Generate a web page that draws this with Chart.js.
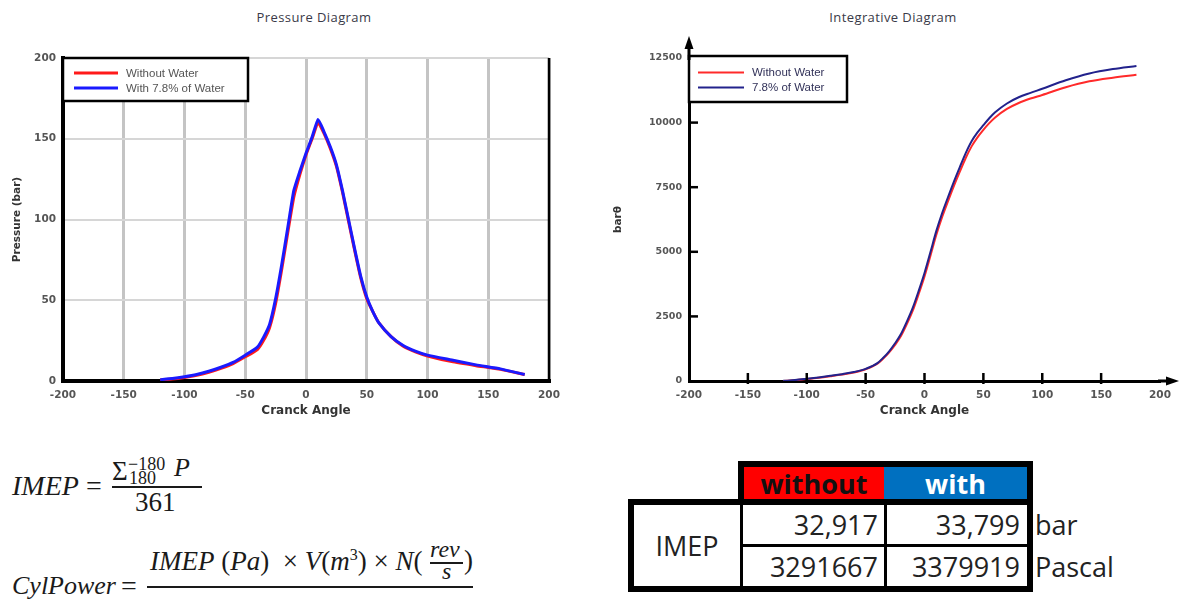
<!DOCTYPE html>
<html>
<head>
<meta charset="utf-8">
<script src="https://cdn.jsdelivr.net/npm/chart.js@4.4.1/dist/chart.umd.min.js"></script>
<style>
  html, body { margin:0; padding:0; background:#fff; }
  body { width:1180px; height:609px; position:relative; overflow:hidden; }
  .title { position:absolute; top:8px; width:220px; font-family:"Open Sans", sans-serif; font-size:13px; line-height:18px; color:#3a3a48; text-align:center; letter-spacing:0.4px; }
  #pressure { position:absolute; left:0; top:0; }
  #integral { position:absolute; left:590px; top:0; }
  .m { position:absolute; font-family:"Liberation Serif", serif; color:#1a1a1a; white-space:nowrap; line-height:1; }
  .rule { position:absolute; background:#1a1a1a; }
  .box { position:absolute; box-sizing:border-box; border:6px solid #000; background:#fff; }
  .cell { position:absolute; font-family:"Open Sans", sans-serif; font-size:27px; color:#222; white-space:nowrap; }
  .blk { position:absolute; background:#000; }
</style>
</head>
<body>
<div class="title" style="left:204px">Pressure Diagram</div>
<div class="title" style="left:783px">Integrative Diagram</div>
<canvas id="pressure" width="580" height="430"></canvas>
<canvas id="integral" width="590" height="430"></canvas>

<!-- IMEP table -->
<div class="box" style="left:738px;top:461px;width:295px;height:46px;"></div>
<div class="cell" style="left:744px;top:467px;width:140px;height:33px;line-height:33px;background:#ff0000;text-align:center;font-weight:bold;color:#111;">without</div>
<div class="cell" style="left:884px;top:467px;width:143px;height:33px;line-height:33px;background:#0070c0;text-align:center;font-weight:bold;color:#fff;">with</div>
<div class="box" style="left:628px;top:499px;width:405px;height:93px;"></div>
<div class="blk" style="left:740px;top:502px;width:3px;height:88px;"></div>
<div class="blk" style="left:884px;top:502px;width:3px;height:88px;"></div>
<div class="blk" style="left:741px;top:544px;width:287px;height:3px;"></div>
<div class="cell" style="left:634px;top:505px;width:106px;height:81px;line-height:81px;text-align:center;">IMEP</div>
<div class="cell" style="left:743px;top:505px;width:135px;height:39px;line-height:39px;text-align:right;">32,917</div>
<div class="cell" style="left:887px;top:505px;width:133px;height:39px;line-height:39px;text-align:right;">33,799</div>
<div class="cell" style="left:743px;top:547px;width:135px;height:39px;line-height:39px;text-align:right;">3291667</div>
<div class="cell" style="left:887px;top:547px;width:133px;height:39px;line-height:39px;text-align:right;">3379919</div>
<div class="cell" style="left:1035px;top:505px;height:39px;line-height:39px;">bar</div>
<div class="cell" style="left:1035px;top:547px;height:39px;line-height:39px;">Pascal</div>

<script>
// crank angle (deg) shared by both diagrams
const crankAngle = [-120,-110,-100,-90,-80,-70,-60,-50,-40,-35,-30,-25,-20,-15,-10,-5,0,5,10,15,20,25,30,35,40,45,50,55,60,70,80,90,100,120,140,160,180];

// cylinder pressure (bar)
const pressureWithout = [0.6,1.2,2.2,3.5,5.4,7.8,10.8,15,19.5,25,33,48,69,92,114,128,140,150,160,153,144,133,117,99,81,64,51,43,36,27.5,21.5,18,15.5,12,9.5,7.2,4];
const pressureWith    = [0.8,1.5,2.6,4.0,6.0,8.5,11.5,16,21,27,35,51,72,95,118,130,141,151,162,154,145,134,118,100,82,65,52,43,36,27.5,22,18.5,16,13,10,7.5,4];

// integrated pressure (bar.deg)
const integralWithout = [4,30,75,125,185,250,330,455,670,870,1110,1400,1740,2200,2720,3360,4050,4840,5650,6350,6960,7550,8100,8630,9080,9430,9720,9980,10200,10530,10760,10930,11070,11370,11600,11740,11850];
const integralWith    = [5,35,85,140,200,265,345,470,690,900,1150,1460,1820,2300,2830,3480,4180,4980,5800,6500,7120,7720,8280,8820,9280,9620,9900,10170,10400,10740,10980,11150,11310,11640,11900,12070,12190];

const angleTicks = [-200,-150,-100,-50,0,50,100,150,200];
const pressureTicks = [0,50,100,150,200];
const integralTicks = [0,2500,5000,7500,10000,12500];

const pts = arr => crankAngle.map((a, i) => ({x: a, y: arr[i]}));

// legend drawn as a framed box in the top-left corner of the plot
const boxLegend = {
  id: 'boxLegend',
  afterDraw(chart, args, o) {
    const {ctx, chartArea} = chart;
    const x = chartArea.left, y = chartArea.top + o.dy;
    ctx.save();
    ctx.fillStyle = '#fff';
    ctx.fillRect(x, y, o.w, o.h);
    ctx.strokeStyle = '#000';
    ctx.lineWidth = 2.5;
    ctx.strokeRect(x, y, o.w, o.h);
    chart.data.datasets.forEach((ds, i) => {
      const ly = y + o.rows[i];
      ctx.strokeStyle = ds.borderColor;
      ctx.lineWidth = ds.borderWidth;
      ctx.beginPath();
      ctx.moveTo(x + o.x0, ly);
      ctx.lineTo(x + o.x1, ly);
      ctx.stroke();
      ctx.fillStyle = o.color;
      ctx.font = o.font;
      ctx.textBaseline = 'middle';
      ctx.fillText(ds.label, x + o.tx, ly + 0.5);
    });
    ctx.restore();
  }
};

// black right edge of the pressure plot
const rightEdge = {
  id: 'rightEdge',
  afterDraw(chart) {
    const {ctx, chartArea: a} = chart;
    ctx.save();
    ctx.strokeStyle = '#000';
    ctx.lineWidth = 2.5;
    ctx.beginPath();
    ctx.moveTo(a.right, a.top);
    ctx.lineTo(a.right, a.bottom);
    ctx.stroke();
    ctx.restore();
  }
};

// arrow heads and inward tick marks for the integrative plot
const arrows = {
  id: 'arrows',
  afterDraw(chart) {
    const {ctx, chartArea: a, scales: {x, y}} = chart;
    const x0 = x.getPixelForValue(-200), y0 = y.getPixelForValue(0);
    ctx.save();
    ctx.strokeStyle = '#000';
    ctx.fillStyle = '#000';
    ctx.lineWidth = 3;
    ctx.beginPath();
    ctx.moveTo(x0, a.top + 2); ctx.lineTo(x0, a.top - 12);
    ctx.moveTo(a.right - 2, y0); ctx.lineTo(chart.width - 10, y0);
    ctx.stroke();
    ctx.beginPath();
    ctx.moveTo(x0, a.top - 22); ctx.lineTo(x0 - 4.5, a.top - 9); ctx.lineTo(x0 + 4.5, a.top - 9);
    ctx.fill();
    ctx.beginPath();
    ctx.moveTo(chart.width - 1, y0); ctx.lineTo(chart.width - 14, y0 - 4.5); ctx.lineTo(chart.width - 14, y0 + 4.5);
    ctx.fill();
    ctx.lineWidth = 2.5;
    angleTicks.filter(v => v > -200 && v < 200).forEach(v => {
      const px = x.getPixelForValue(v);
      ctx.beginPath(); ctx.moveTo(px, y0 - 8); ctx.lineTo(px, y0 + 3); ctx.stroke();
    });
    integralTicks.filter(v => v > 0 && v < 12500).forEach(v => {
      const py = y.getPixelForValue(v);
      ctx.beginPath(); ctx.moveTo(x0, py); ctx.lineTo(x0 + 9, py); ctx.stroke();
    });
    ctx.restore();
  }
};

const tickFont = {family: 'DejaVu Sans', size: 10.5, weight: 'bold'};
const titleFont = {family: 'DejaVu Sans', size: 12, weight: 'bold'};
const plain = v => String(v);

new Chart(document.getElementById('pressure'), {
  type: 'line',
  data: {
    datasets: [
      {label: 'Without Water', data: pts(pressureWithout), borderColor: '#ff1a1a', borderWidth: 3, order: 1},
      {label: 'With 7.8% of Water', data: pts(pressureWith), borderColor: '#1a1aff', borderWidth: 3, order: 0}
    ]
  },
  options: {
    responsive: false,
    animation: false,
    layout: {padding: {top: 58, right: 31, left: 0, bottom: 0}},
    elements: {point: {radius: 0}, line: {tension: 0.15}},
    plugins: {
      legend: {display: false},
      tooltip: {enabled: false},
      boxLegend: {dy: 0, w: 185, h: 43, rows: [15, 30], x0: 11, x1: 55, tx: 63, font: '11.5px "Liberation Sans"', color: '#555'}
    },
    scales: {
      x: {
        type: 'linear', min: -200, max: 200,
        afterBuildTicks: s => { s.ticks = angleTicks.map(v => ({value: v})); },
        afterFit: s => { s.height = 49; },
        grid: {color: '#c4c4c4', lineWidth: 3, drawTicks: false},
        border: {color: '#000', width: 4},
        ticks: {font: tickFont, color: '#555', padding: 8, maxRotation: 0, callback: plain},
        title: {display: true, text: 'Cranck Angle', font: titleFont, color: '#333', padding: {top: 0, bottom: 12}}
      },
      y: {
        min: 0, max: 200,
        afterBuildTicks: s => { s.ticks = pressureTicks.map(v => ({value: v})); },
        afterFit: s => { s.width = 63; },
        grid: {color: '#d6d6d6', lineWidth: 2, drawTicks: false},
        border: {color: '#000', width: 4},
        ticks: {font: tickFont, color: '#555', padding: 7, callback: plain},
        title: {display: true, text: 'Pressure (bar)', font: {family: 'DejaVu Sans', size: 10.5, weight: 'bold'}, color: '#333', padding: {top: 11, bottom: 0}}
      }
    }
  },
  plugins: [boxLegend, rightEdge]
});

new Chart(document.getElementById('integral'), {
  type: 'line',
  data: {
    datasets: [
      {label: 'Without Water', data: pts(integralWithout), borderColor: '#ff2a2a', borderWidth: 2, order: 1},
      {label: '7.8% of Water', data: pts(integralWith), borderColor: '#22228c', borderWidth: 2, order: 0}
    ]
  },
  options: {
    responsive: false,
    animation: false,
    layout: {padding: {top: 58, right: 20, left: 0, bottom: 0}},
    elements: {point: {radius: 0}, line: {cubicInterpolationMode: 'monotone'}},
    plugins: {
      legend: {display: false},
      tooltip: {enabled: false},
      boxLegend: {dy: -2, w: 158, h: 46, rows: [16.5, 31.5], x0: 9, x1: 55, tx: 63, font: '11.5px "Liberation Sans"', color: '#33335a'}
    },
    scales: {
      x: {
        type: 'linear', min: -200, max: 200,
        afterBuildTicks: s => { s.ticks = angleTicks.map(v => ({value: v})); },
        afterFit: s => { s.height = 49; },
        grid: {display: false, drawTicks: false},
        border: {color: '#000', width: 3},
        ticks: {font: tickFont, color: '#555', padding: 8, maxRotation: 0, callback: plain},
        title: {display: true, text: 'Cranck Angle', font: titleFont, color: '#333', padding: {top: 0, bottom: 12}}
      },
      y: {
        min: 0, max: 12500,
        afterBuildTicks: s => { s.ticks = integralTicks.map(v => ({value: v})); },
        afterFit: s => { s.width = 99; },
        grid: {display: false, drawTicks: false},
        border: {color: '#000', width: 3},
        ticks: {font: {family: 'DejaVu Sans', size: 9.5, weight: 'bold'}, color: '#555', padding: 7, callback: plain},
        title: {display: true, text: 'barθ', font: {family: 'DejaVu Sans', size: 10.5, weight: 'bold'}, color: '#333', padding: {top: 22, bottom: 0}}
      }
    }
  },
  plugins: [boxLegend, arrows]
});

// formulas, placed by baseline
function put(html, x, base, size) {
  const el = document.createElement('span');
  el.className = 'm';
  el.innerHTML = html;
  el.style.left = x + 'px';
  el.style.top = (base - 0.8375 * size) + 'px';
  el.style.fontSize = size + 'px';
  document.body.appendChild(el);
}
function rule(x, y, w, h) {
  const el = document.createElement('div');
  el.className = 'rule';
  Object.assign(el.style, {left: x + 'px', top: y + 'px', width: w + 'px', height: h + 'px'});
  document.body.appendChild(el);
}

put('<i>IMEP</i>', 12, 495, 28);
put('=', 86, 495, 28);
rule(112, 486, 90, 2);
put('&Sigma;', 112, 481, 27);
put('&minus;180', 128, 470, 18);
put('180', 129, 484, 18);
put('<i>P</i>', 174, 477, 26);
put('361', 135, 512, 27);

put('<i>CylPower</i>', 12, 595, 26);
put('=', 121, 595, 28);
rule(147, 586, 326, 2);
put('<i>IMEP</i> (<i>Pa</i>)&nbsp; &times; <i>V</i>(<i>m</i><span style="font-size:16px;vertical-align:10px">3</span>) &times; <i>N</i>(', 150, 570, 27);
put('<i>rev</i>', 430, 557, 24);
rule(430, 562, 33, 1.5);
put('<i>s</i>', 442, 579, 24);
put(')', 464, 570, 27);
put('<i>nr</i>', 297, 624, 28);
</script>
</body>
</html>
